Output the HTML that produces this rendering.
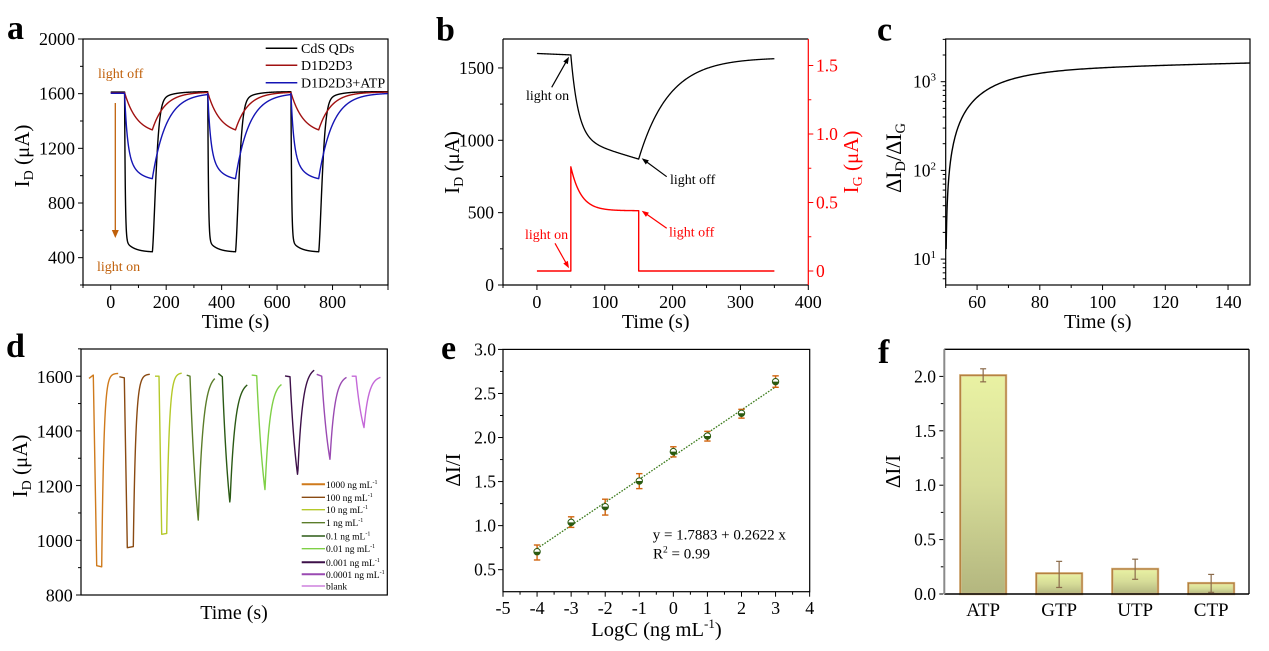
<!DOCTYPE html>
<html><head><meta charset="utf-8">
<style>
html,body{margin:0;padding:0;background:#fff;}
svg{display:block;font-family:"Liberation Serif","Times New Roman",serif;}
</style></head><body>
<svg id="s" width="1269" height="651" viewBox="0 0 1269 651" xmlns="http://www.w3.org/2000/svg">
<defs>
<linearGradient id="bg" x1="0" y1="0" x2="0" y2="1">
<stop offset="0" stop-color="#e9f2a3"/>
<stop offset="0.5" stop-color="#d6dc98"/>
<stop offset="1" stop-color="#b3b67f"/>
</linearGradient>
</defs>
<rect width="1269" height="651" fill="#fff"/>
<g id="dyn"></g>

<!-- panel labels -->
<g font-size="34" font-weight="bold" fill="#000">
<text x="7" y="39">a</text>
<text x="436" y="40.5">b</text>
<text x="877" y="40.5">c</text>
<text x="6" y="357">d</text>
<text x="441" y="359">e</text>
<text x="878" y="363">f</text>
</g>

<!-- Panel a -->
<g font-size="18" text-anchor="end">
<text x="75" y="45">2000</text>
<text x="75" y="99.7">1600</text>
<text x="75" y="154.3">1200</text>
<text x="75" y="209">800</text>
<text x="75" y="263.7">400</text>
</g>
<g font-size="18" text-anchor="middle">
<text x="110.7" y="308">0</text>
<text x="166.2" y="308">200</text>
<text x="221.6" y="308">400</text>
<text x="277.1" y="308">600</text>
<text x="332.5" y="308">800</text>
</g>
<text x="235.5" y="328" font-size="20" text-anchor="middle">Time (s)</text>
<text transform="translate(29,156) rotate(-90)" text-anchor="middle" font-size="21">I<tspan font-size="14" dy="4">D</tspan><tspan dy="-4"> (μA)</tspan></text>
<g font-size="14">
<text x="301" y="53">CdS QDs</text>
<text x="301" y="70">D1D2D3</text>
<text x="301" y="87.5">D1D2D3+ATP</text>
</g>
<g font-size="14" fill="#c0600a">
<text x="98" y="78">light off</text>
<text x="97" y="271">light on</text>
</g>

<!-- Panel b -->
<g font-size="17.5" text-anchor="end">
<text x="494" y="73.9">1500</text>
<text x="494" y="146.3">1000</text>
<text x="494" y="218.6">500</text>
<text x="494" y="291">0</text>
</g>
<g font-size="17.5" fill="#ff0000">
<text x="816" y="71.5">1.5</text>
<text x="816" y="140">1.0</text>
<text x="816" y="208.5">0.5</text>
<text x="816" y="277">0</text>
</g>
<g font-size="18" text-anchor="middle">
<text x="536.9" y="308">0</text>
<text x="604.7" y="308">100</text>
<text x="672.6" y="308">200</text>
<text x="740.4" y="308">300</text>
<text x="808.3" y="308">400</text>
</g>
<text x="655.7" y="328" font-size="20" text-anchor="middle">Time (s)</text>
<text transform="translate(459,162.5) rotate(-90)" text-anchor="middle" font-size="21">I<tspan font-size="14" dy="4">D</tspan><tspan dy="-4"> (μA)</tspan></text>
<text transform="translate(858,162) rotate(-90)" text-anchor="middle" font-size="21" fill="#ff0000">I<tspan font-size="14" dy="4">G</tspan><tspan dy="-4"> (μA)</tspan></text>
<g font-size="14">
<text x="526" y="100">light on</text>
<text x="670" y="184">light off</text>
<text x="525" y="239" fill="#ff0000">light on</text>
<text x="669" y="236.5" fill="#ff0000">light off</text>
</g>

<!-- Panel c -->
<g font-size="17.5" text-anchor="end">
<text x="936" y="87.7">10<tspan dy="-7" font-size="11">3</tspan></text>
<text x="936" y="176.4">10<tspan dy="-7" font-size="11">2</tspan></text>
<text x="936" y="265.1">10<tspan dy="-7" font-size="11">1</tspan></text>
</g>
<g font-size="18" text-anchor="middle">
<text x="977.1" y="308">60</text>
<text x="1039.9" y="308">80</text>
<text x="1102.6" y="308">100</text>
<text x="1165.4" y="308">120</text>
<text x="1228.1" y="308">140</text>
</g>
<text x="1097.8" y="328" font-size="20" text-anchor="middle">Time (s)</text>
<text transform="translate(901,158) rotate(-90)" text-anchor="middle" font-size="22">ΔI<tspan font-size="14.5" dy="4">D</tspan><tspan dy="-4">/ΔI</tspan><tspan font-size="14.5" dy="4">G</tspan></text>

<!-- Panel d -->
<g font-size="18" text-anchor="end">
<text x="72.7" y="382.9">1600</text>
<text x="72.7" y="437.6">1400</text>
<text x="72.7" y="492.3">1200</text>
<text x="72.7" y="547">1000</text>
<text x="72.7" y="601.5">800</text>
</g>
<text x="234" y="619" font-size="20" text-anchor="middle">Time (s)</text>
<text transform="translate(27,466) rotate(-90)" text-anchor="middle" font-size="21">I<tspan font-size="14" dy="4">D</tspan><tspan dy="-4"> (μA)</tspan></text>
<g font-size="9.5">
<text x="326" y="487.8">1000 ng mL<tspan font-size="6" dy="-4">-1</tspan></text>
<text x="326" y="500.8">100 ng mL<tspan font-size="6" dy="-4">-1</tspan></text>
<text x="326" y="513.2">10 ng mL<tspan font-size="6" dy="-4">-1</tspan></text>
<text x="326" y="526.2">1 ng mL<tspan font-size="6" dy="-4">-1</tspan></text>
<text x="326" y="539.5">0.1 ng mL<tspan font-size="6" dy="-4">-1</tspan></text>
<text x="326" y="552.2">0.01 ng mL<tspan font-size="6" dy="-4">-1</tspan></text>
<text x="326" y="565.8">0.001 ng mL<tspan font-size="6" dy="-4">-1</tspan></text>
<text x="326" y="577.8">0.0001 ng mL<tspan font-size="6" dy="-4">-1</tspan></text>
<text x="326" y="589.5">blank</text>
</g>

<!-- Panel e -->
<g font-size="17.5" text-anchor="end">
<text x="496" y="355.4">3.0</text>
<text x="496" y="399.4">2.5</text>
<text x="496" y="443.5">2.0</text>
<text x="496" y="487.5">1.5</text>
<text x="496" y="531.6">1.0</text>
<text x="496" y="575.7">0.5</text>
</g>
<g font-size="18" text-anchor="middle">
<text x="503" y="614">-5</text>
<text x="537.1" y="614">-4</text>
<text x="571.1" y="614">-3</text>
<text x="605.2" y="614">-2</text>
<text x="639.3" y="614">-1</text>
<text x="673.4" y="614">0</text>
<text x="707.4" y="614">1</text>
<text x="741.5" y="614">2</text>
<text x="775.6" y="614">3</text>
<text x="809.7" y="614">4</text>
</g>
<text x="656.5" y="636" font-size="20.5" text-anchor="middle">LogC (ng mL<tspan font-size="13" dy="-8">-1</tspan><tspan dy="8">)</tspan></text>
<text transform="translate(460,470) rotate(-90)" text-anchor="middle" font-size="21">ΔI/I</text>
<g font-size="15">
<text x="652.7" y="539.3">y = 1.7883 + 0.2622 x</text>
<text x="653" y="558.3">R<tspan font-size="9.5" dy="-6">2</tspan><tspan dy="6"> = 0.99</tspan></text>
</g>

<!-- Panel f -->
<g font-size="17.5" text-anchor="end">
<text x="936" y="382.4">2.0</text>
<text x="936" y="436.8">1.5</text>
<text x="936" y="491.2">1.0</text>
<text x="936" y="545.6">0.5</text>
<text x="936" y="600">0.0</text>
</g>
<g font-size="19" text-anchor="middle">
<text x="983.2" y="616">ATP</text>
<text x="1059.2" y="616">GTP</text>
<text x="1135.2" y="616">UTP</text>
<text x="1211.2" y="616">CTP</text>
</g>
<text transform="translate(900,471.5) rotate(-90)" text-anchor="middle" font-size="21">ΔI/I</text>
</svg>
<script>
(function(){
const NS='http://www.w3.org/2000/svg';
const G=document.getElementById('dyn');
function el(t,a){const e=document.createElementNS(NS,t);for(const k in a)e.setAttribute(k,a[k]);G.appendChild(e);return e;}
function pth(pts,st,w,ex){let d='';pts.forEach((p,i)=>{d+=(i?'L':'M')+p[0].toFixed(2)+' '+p[1].toFixed(2);});const a={d:d,fill:'none',stroke:st,'stroke-width':w,'stroke-linejoin':'round'};if(ex)Object.assign(a,ex);return el('path',a);}
function ln(x1,y1,x2,y2,s,w){return el('line',{x1:x1,y1:y1,x2:x2,y2:y2,stroke:s||'#000','stroke-width':w||1});}
function yt(x,vals,f,len,s){vals.forEach(v=>{const y=f(v);ln(x,y,x-len,y,s||'#000',1);});}
function yr(x,vals,f,len,s){vals.forEach(v=>{const y=f(v);ln(x,y,x+len,y,s||'#000',1);});}
function xt(y,vals,f,len){vals.forEach(v=>{const x=f(v);ln(x,y,x,y+len,'#000',1);});}
function box(x,y,w,h){el('rect',{x:x,y:y,width:w,height:h,fill:'none',stroke:'#000','stroke-width':1.2});}
function arrow(x1,y1,x2,y2,c){const dx=x2-x1,dy=y2-y1,L=Math.hypot(dx,dy),ux=dx/L,uy=dy/L,px=-uy,py=ux,h=7,w=2.6;
 ln(x1,y1,x2-ux*h*0.6,y2-uy*h*0.6,c,1.2);
 const bx=x2-ux*h,by=y2-uy*h;
 el('polygon',{points:[x2,y2,bx+px*w,by+py*w,bx-px*w,by-py*w].map(v=>v.toFixed(2)).join(' '),fill:c});}

/* ---------- Panel a ---------- */
(function(){
const X=t=>83+(t+100)*305/1100, Y=v=>285-(v-200)*246/1800;
box(83,39,305,246);
yt(83,[400,800,1200,1600,2000],Y,5); yt(83,[200,600,1000,1400,1800],Y,3);
xt(285,[0,200,400,600,800,1000],X,5); xt(285,[-100,100,300,500,700,900],X,3);
function ph(t){let u=t-50; if(u>=900)u-=600; else u=u%300; return u;}
const bk=t=>{if(t<50)return 1612;const u=ph(t);
 if(u<100)return 440+90*Math.exp(-u/30)+1082*Math.exp(-u/2.5);
 const s=u-100,vm=440+90*Math.exp(-100/30);
 return 1615-(1615-vm)*(0.9*Math.exp(-Math.pow(s/17,1.5))+0.1*Math.exp(-s/40));};
const rd=t=>{if(t<50)return 1606;const u=ph(t);const e=Math.exp(-100/45);
 if(u<100)return 1335+(1608-1335)*(Math.exp(-u/45)-e)/(1-e);
 const s=u-100;return 1612-(1612-1335)*Math.exp(-s/45);};
const bl=t=>{if(t<50)return 1603;const u=ph(t);
 if(u<100)return 960+423*Math.exp(-u/10)+217*Math.exp(-u/40);
 const vm=960+217*Math.exp(-100/40);const s=u-100;return 1605-(1605-vm)*Math.exp(-s/50);};
const pts=f=>{const r=[];for(let t=0;t<=999;t+=0.5)r.push([X(t),Y(f(t))]);return r;};
pth(pts(bk),'#000',1.4);
pth(pts(rd),'#a01010',1.4);
pth(pts(bl),'#1414b4',1.4);
ln(265.7,48.3,297.3,48.3,'#000',1.5);
ln(265.7,65.3,297.3,65.3,'#a01010',1.5);
ln(265.7,82.7,297.3,82.7,'#1414b4',1.5);
ln(115.3,103,115.3,231,'#c0600a',1.3);
el('polygon',{points:'111.8,230 118.8,230 115.3,238',fill:'#c0600a'});
})();

/* ---------- Panel b ---------- */
(function(){
const X=t=>503+(t+50)*305.3/450, YL=v=>285-v*246/1700, YR=v=>271-v*137;
ln(503,39,808.3,39,'#000',1.2); ln(503,39,503,285,'#000',1.2); ln(503,285,808.3,285,'#000',1.2);
ln(808.3,39,808.3,285,'#ff0000',1.2);
yt(503,[0,500,1000,1500],YL,5); yt(503,[250,750,1250],YL,3);
yr(808.3,[0,0.5,1,1.5],YR,5,'#ff0000'); yr(808.3,[0.25,0.75,1.25],YR,3,'#ff0000');
xt(285,[0,100,200,300,400],X,5); xt(285,[-50,50,150,250,350],X,3);
const id=t=>{if(t<50)return 1600-10*t/50;if(t<=150){const u=t-50;return 1590-580*(1-Math.exp(-u/11))-140*u/100;}
 const s=t-150;return 1572-(1572-870)*Math.exp(-s/45);};
const p=[];for(let t=0;t<=350;t+=0.5)p.push([X(t),YL(id(t))]);
pth(p,'#000',1.3);
const r=[[X(0),YR(0)],[X(50),YR(0)]];
for(let u=0;u<=100;u+=0.5)r.push([X(50+u),YR(0.44+0.32*Math.exp(-u/15))]);
r.push([X(150),YR(0)]);r.push([X(350),YR(0)]);
pth(r,'#ff0000',1.4);
arrow(551.7,87.3,569,56.7,'#000');
arrow(666.7,176.7,641.7,158.3,'#000');
arrow(555,243.3,569,268.3,'#ff0000');
arrow(666.7,228.3,641.7,210.7,'#ff0000');
})();

/* ---------- Panel c ---------- */
(function(){
const X=t=>945.7+(t-50)*304.3/97, Y=v=>81.7-(Math.log10(v)-3)*88.7;
box(945.7,39,304.3,246);
yt(945.7,[10,100,1000],Y,5);
const mn=[];[1,10,100,1000].forEach(d=>{for(let k=2;k<=9;k++){const v=k*d;const y=Y(v);if(y<=285&&y>=39&&v!==10&&v!==100&&v!==1000)mn.push(v);}});
yt(945.7,mn,Y,3);
xt(285,[60,80,100,120,140],X,5); xt(285,[50,70,90,110,130],X,3);
const f=u=>(580*(1-Math.exp(-u/9))+140*u/100)/(0.44+0.32*Math.exp(-u/15));
const us=[0.15,0.2,0.3,0.4,0.5,0.65,0.8,1,1.25,1.5,1.75,2,2.5,3,3.5,4];
for(let u=4.5;u<=97;u+=0.5)us.push(u);
pth(us.map(u=>[X(50+u),Y(f(u))]),'#000',1.4);
})();

/* ---------- Panel d ---------- */
(function(){
const Y=v=>595-(v-800)*0.2735;
box(81,349,306.3,246);
yt(81,[800,1000,1200,1400,1600],Y,5); yt(81,[900,1100,1300,1500,1700],Y,3);
function rise(p,x3,vb,x4,ve,tau){const R=x4-x3,e=Math.exp(-R/tau);for(let s=0.25;s<=R+1e-6;s+=0.25)p.push([x3+s,Y(vb+(ve-vb)*(1-Math.exp(-s/tau))/(1-e))]);}
function sq(x0,v0,x1,v1,x2,vb,x3,vb2,x4,ve,tau,c){const p=[[x0,Y(v0)],[x1,Y(v1)],[x2,Y(vb)],[x3,Y(vb2)]];rise(p,x3,vb2,x4,ve,tau);pth(p,c,1.4);}
function tri(x0,v0,x1,v1,x2,vm,x3,ve,c){const p=[[x0,Y(v0)],[x1,Y(v1)]];const D=x2-x1,td=D,e=Math.exp(-D/td);
 for(let d=0.25;d<=D+1e-6;d+=0.25)p.push([x1+d,Y(vm+(v1-vm)*(Math.exp(-d/td)-e)/(1-e))]);
 rise(p,x2,vm,x3,ve,(x3-x2)/3.5);pth(p,c,1.4);}
sq(89,1592,93.3,1604,96.7,907,101.7,903,118.3,1610,2.2,'#cf7a1c');
sq(119.3,1598,124.3,1594,127.3,973,133.3,977,150,1607,2.5,'#8a4a12');
sq(155,1600,159,1600,161.7,1022,166.7,1025,181.7,1611,2.5,'#b5c92a');
tri(186.7,1604,190,1600,198.3,1072,215,1592,'#5b7d2a');
tri(218.3,1610,222.3,1598,230,1133,247.3,1568,'#2b5a15');
tri(251.7,1604,256.7,1602,265,1184,281.7,1570,'#7fd046');
tri(285,1601,290,1598,297.7,1236,314.3,1622,'#3d1049');
tri(316.7,1607,321.7,1600,330,1295,346.7,1596,'#9a4ab2');
tri(351.7,1600,356,1600,364,1412,380.7,1596,'#c468d8');
const rows=[484.3,497.3,509.7,522.7,536,548.7,562.3,574.3,586];
const cols=['#cf7a1c','#8a4a12','#b5c92a','#5b7d2a','#2b5a15','#7fd046','#3d1049','#9a4ab2','#c468d8'];
const ws=[2,1.4,1.4,1.4,1.4,1.4,2,2,1.2];
rows.forEach((y,i)=>ln(301.7,y,325,y,cols[i],ws[i]));
})();

/* ---------- Panel e ---------- */
(function(){
const X=v=>503+(v+5)*34.07, Y=v=>591.7-(v-0.25)*88.1;
box(503,349.4,306.7,242.3);
yt(503,[0.5,1,1.5,2,2.5,3],Y,5); yt(503,[0.75,1.25,1.75,2.25,2.75],Y,3);
xt(591.7,[-5,-4,-3,-2,-1,0,1,2,3,4],X,5); xt(591.7,[-4.5,-3.5,-2.5,-1.5,-0.5,0.5,1.5,2.5,3.5],X,3);
pth([[X(-4),Y(1.7883-4*0.2622)],[X(3),Y(1.7883+3*0.2622)]],'#3a7a1a',1.3,{'stroke-dasharray':'1.6 1.4'});
const D=[[-4,.704,.61,.78],[-3,1.037,.98,1.10],[-2,1.215,1.12,1.30],[-1,1.506,1.42,1.59],[0,1.84,1.78,1.895],[1,2.017,1.96,2.07],[2,2.275,2.22,2.32],[3,2.634,2.57,2.70]];
D.forEach(d=>{const x=X(d[0]),y=Y(d[1]),y1=Y(d[3]),y2=Y(d[2]);
 ln(x,y1,x,y2,'#d0650f',1.4); ln(x-3.2,y1,x+3.2,y1,'#d0650f',1.4); ln(x-3.2,y2,x+3.2,y2,'#d0650f',1.4);
 el('circle',{cx:x,cy:y,r:3.2,fill:'#fff',stroke:'#2a5a10','stroke-width':1});
 el('path',{d:`M${x-3.2} ${y} A3.2 3.2 0 0 0 ${x+3.2} ${y} Z`,fill:'#2a5a10'});});
})();

/* ---------- Panel f ---------- */
(function(){
const Y=v=>594-v*108.8;
const bars=[[960.3,2.01,1.95,2.07],[1036.3,0.19,0.06,0.30],[1112.3,0.23,0.135,0.32],[1188.3,0.10,0.015,0.18]];
bars.forEach(b=>{const x=b[0],w=45.7,y=Y(b[1]);
 el('rect',{x:x,y:y,width:w,height:594-y,fill:'url(#bg)',stroke:'#d9b98a','stroke-width':2.4});
 el('rect',{x:x,y:y,width:w,height:594-y,fill:'none',stroke:'#b07a36','stroke-width':1.1});
 const cx=x+w/2,y1=Y(b[3]),y2=Y(b[2]);
 ln(cx,y1,cx,y2,'#8b6b4b',1.2); ln(cx-3,y1,cx+3,y1,'#8b6b4b',1.2); ln(cx-3,y2,cx+3,y2,'#8b6b4b',1.2);});
ln(944.3,349.3,1249,349.3,'#000',1.3); ln(1249,349.3,1249,594,'#000',1.3); ln(944.3,594,1249,594,'#000',1.4);
ln(944.3,349.3,944.3,594,'#8a8a8a',2);
yt(943.3,[0,0.5,1,1.5,2],Y,4); yt(943.3,[0.25,0.75,1.25,1.75],Y,2.5);
})();
})();
</script>
</body></html>
